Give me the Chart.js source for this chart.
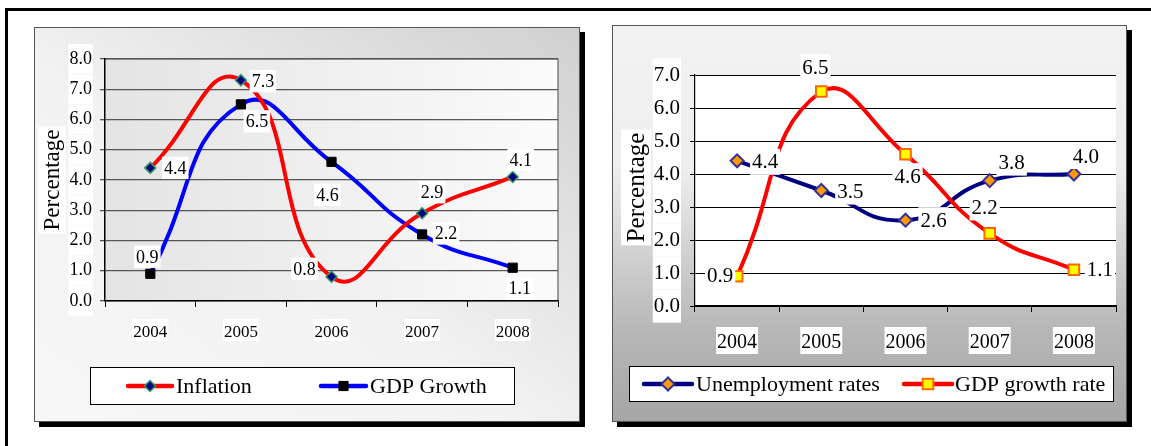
<!DOCTYPE html>
<html>
<head>
<meta charset="utf-8">
<script src="https://cdn.jsdelivr.net/npm/chart.js@4.4.1/dist/chart.umd.min.js"></script>
<style>
  html, body { margin: 0; padding: 0; background: #fff; width: 1151px; height: 446px; overflow: hidden; position: relative; }
  #frameTop { position: absolute; left: 5px; top: 8px; width: 1146px; height: 3px; background: #000; }
  #frameLeft { position: absolute; left: 5px; top: 8px; width: 3px; height: 438px; background: #000; }
  .box { position: absolute; box-sizing: border-box; border: 1px solid #555; box-shadow: 5px 5px 0 #000; }
  #boxL { left: 34px; top: 27px; width: 546px; height: 395px;
    background: linear-gradient(to bottom left, #d0d0d0 0%, #f2f2f2 55%, #f7f7f7 100%); }
  #boxR { left: 612px; top: 25px; width: 515px; height: 397px;
    background: linear-gradient(to bottom, #f2f2f2 0%, #eeeeee 36%, #b6b6b6 78%, #a6a6a6 100%); }
  .box canvas { position: absolute; left: -1px; top: -1px; }
</style>
</head>
<body>
<div id="frameTop"></div>
<div id="frameLeft"></div>
<div class="box" id="boxL"><canvas id="chartL" width="546" height="395"></canvas></div>
<div class="box" id="boxR"><canvas id="chartR" width="515" height="397"></canvas></div>
<script>
const years = ['2004', '2005', '2006', '2007', '2008'];
const inflation = [4.4, 7.3, 0.8, 2.9, 4.1];
const gdpGrowth = [0.9, 6.5, 4.6, 2.2, 1.1];
const unemploymentRates = [4.4, 3.5, 2.6, 3.8, 4.0];
const gdpGrowthRate = [0.9, 6.5, 4.6, 2.2, 1.1];
const leftMax = 8;
const rightMax = 7;

const FONT = '"Liberation Serif", "Times New Roman", serif';

// plot area fill (and grey border on the left chart)
const plotBg = {
  id: 'plotBg',
  beforeDraw(chart, args, o) {
    const { ctx, chartArea: a } = chart;
    ctx.save();
    if (o.gradient) {
      const g = ctx.createLinearGradient(a.left, 0, a.right, 0);
      g.addColorStop(0, o.gradient[0]);
      g.addColorStop(1, o.gradient[1]);
      ctx.fillStyle = g;
    } else {
      ctx.fillStyle = o.color;
    }
    ctx.fillRect(a.left, a.top, a.right - a.left, a.bottom - a.top);
    if (o.border) {
      ctx.strokeStyle = o.border;
      ctx.lineWidth = 1.5;
      ctx.beginPath();
      ctx.moveTo(a.left, a.top);
      ctx.lineTo(a.right, a.top);
      ctx.lineTo(a.right, a.bottom);
      ctx.stroke();
    }
    ctx.restore();
  }
};

// value labels on white boxes next to each point
const pointLabels = {
  id: 'pointLabels',
  afterDatasetsDraw(chart, args, o) {
    const ctx = chart.ctx;
    ctx.save();
    ctx.font = o.size + 'px ' + FONT;
    ctx.textAlign = 'center';
    ctx.textBaseline = 'middle';
    chart.data.datasets.forEach((ds, i) => {
      chart.getDatasetMeta(i).data.forEach((pt, j) => {
        const s = ds.labelShift[j];
        const txt = ds.data[j].toFixed(1);
        const w = ctx.measureText(txt).width;
        const x = pt.x + s[0], y = pt.y + s[1];
        ctx.fillStyle = '#fff';
        ctx.fillRect(x - w / 2 - 2, y - o.size * 0.62, w + 4, o.size * 1.24);
        ctx.fillStyle = '#000';
        ctx.fillText(txt, x, y + 1);
      });
    });
    ctx.restore();
  }
};

// rotated axis title with white backdrop
const yTitle = {
  id: 'yTitle',
  afterDraw(chart, args, o) {
    const { ctx, chartArea: a } = chart;
    ctx.save();
    ctx.font = o.size + 'px ' + FONT;
    const w = ctx.measureText(o.text).width;
    ctx.translate(o.x, (a.top + a.bottom) / 2 + o.dy);
    ctx.rotate(-Math.PI / 2);
    ctx.fillStyle = '#fff';
    ctx.fillRect(-w / 2 - 3, -o.size * 0.6, w + 6, o.size * 1.2);
    ctx.fillStyle = '#000';
    ctx.textAlign = 'center';
    ctx.textBaseline = 'middle';
    ctx.fillText(o.text, 0, 1);
    ctx.restore();
  }
};

// boxed legend with line + marker samples
const boxLegend = {
  id: 'boxLegend',
  afterDraw(chart, args, o) {
    const ctx = chart.ctx;
    const [bx, by, bw, bh] = o.box;
    ctx.save();
    ctx.fillStyle = '#fff';
    ctx.fillRect(bx, by, bw, bh);
    ctx.strokeStyle = '#000';
    ctx.lineWidth = 1;
    ctx.strokeRect(bx + 0.5, by + 0.5, bw - 1, bh - 1);
    const cy = by + bh / 2;
    ctx.font = o.size + 'px ' + FONT;
    ctx.textBaseline = 'middle';
    chart.data.datasets.forEach((ds, i) => {
      const it = o.items[i];
      ctx.strokeStyle = ds.borderColor;
      ctx.lineWidth = ds.borderWidth + 0.5;
      ctx.lineCap = 'round';
      ctx.beginPath();
      ctx.moveTo(it.x0, cy);
      ctx.lineTo(it.x1, cy);
      ctx.stroke();
      ctx.lineCap = 'butt';
      ctx.fillStyle = ds.pointBackgroundColor;
      ctx.strokeStyle = ds.pointBorderColor;
      ctx.lineWidth = ds.pointBorderWidth;
      Chart.helpers.drawPoint(ctx, { pointStyle: ds.pointStyle, radius: ds.pointRadius, borderWidth: ds.pointBorderWidth, rotation: 0 }, (it.x0 + it.x1) / 2, cy);
      ctx.fillStyle = '#000';
      ctx.fillText(ds.label, it.tx, cy + 1);
    });
    ctx.restore();
  }
};

const fmt = v => Number(v).toFixed(1);

// left: Inflation vs GDP Growth
new Chart(document.getElementById('chartL'), {
  type: 'line',
  data: {
    labels: years,
    datasets: [
      {
        label: 'Inflation', data: inflation,
        borderColor: '#ff0000', borderWidth: 4, tension: 0.5,
        pointStyle: 'rectRot', pointRadius: 5.5, pointBackgroundColor: '#000080',
        pointBorderColor: '#339966', pointBorderWidth: 1.5,
        labelShift: [[25, 0], [22, 1], [-27, -8], [10, -21], [8, -17]]
      },
      {
        label: 'GDP Growth', data: gdpGrowth,
        borderColor: '#0000ff', borderWidth: 4, tension: 0.5,
        pointStyle: 'rect', pointRadius: 6.5, pointBackgroundColor: '#000',
        pointBorderColor: '#000', pointBorderWidth: 1,
        labelShift: [[-3, -17], [16, 17], [-4, 33], [24, -1], [7, 21]]
      }
    ]
  },
  options: {
    responsive: false, animation: false, events: [],
    layout: { padding: { left: 0, right: 22, top: 32, bottom: 81 } },
    plugins: {
      legend: { display: false },
      tooltip: { enabled: false },
      plotBg: { gradient: ['#e4e4e4', '#fbfbfb'], border: '#808080' },
      pointLabels: { size: 18 },
      yTitle: { text: 'Percentage', size: 23, x: 18, dy: 0 },
      boxLegend: {
        box: [56, 340, 425, 38], size: 22,
        items: [{ x0: 94, x1: 138, tx: 142 }, { x0: 287, x1: 332, tx: 336 }]
      }
    },
    scales: {
      x: {
        offset: true,
        grid: { offset: true, drawOnChartArea: false, tickLength: 6, color: '#000' },
        border: { color: '#000', width: 1.5 },
        ticks: { color: '#000', font: { family: FONT, size: 17 }, padding: 15,
          showLabelBackdrop: true, backdropColor: '#fff', backdropPadding: { x: 1, y: 3 } },
        afterFit: s => { s.height = 40; }
      },
      y: {
        min: 0, max: leftMax,
        grid: { color: '#555', lineWidth: 1.3, tickLength: 5 },
        border: { color: '#000', width: 1.5 },
        ticks: { stepSize: 1, callback: fmt, color: '#000', font: { family: FONT, size: 18 }, padding: 8,
          showLabelBackdrop: true, backdropColor: '#fff', backdropPadding: { x: 1, y: 4 } },
        afterFit: s => { s.width = 71; }
      }
    }
  },
  plugins: [plotBg, pointLabels, yTitle, boxLegend]
});

// right: Unemployment vs GDP growth rate
new Chart(document.getElementById('chartR'), {
  type: 'line',
  data: {
    labels: years,
    datasets: [
      {
        label: 'Unemployment rates', data: unemploymentRates, order: 2,
        borderColor: '#000080', borderWidth: 4, tension: 0.5,
        pointStyle: 'rectRot', pointRadius: 6.5, pointBackgroundColor: '#ff9900',
        pointBorderColor: '#333399', pointBorderWidth: 2,
        labelShift: [[28, 1], [29, 1], [28, 0], [22, -18], [12, -18]]
      },
      {
        label: 'GDP growth rate', data: gdpGrowthRate, order: 1,
        borderColor: '#ff0000', borderWidth: 4, tension: 0.5,
        pointStyle: 'rect', pointRadius: 7.5, pointBackgroundColor: '#ffff00',
        pointBorderColor: '#ff6600', pointBorderWidth: 2,
        labelShift: [[-17, -1], [-6, -24], [2, 22], [-5, -26], [26, 0]]
      }
    ]
  },
  options: {
    responsive: false, animation: false, events: [],
    layout: { padding: { left: 0, right: 11, top: 50, bottom: 68 } },
    plugins: {
      legend: { display: false },
      tooltip: { enabled: false },
      plotBg: { color: '#ffffff' },
      pointLabels: { size: 21 },
      yTitle: { text: 'Percentage', size: 25, x: 24, dy: -3 },
      boxLegend: {
        box: [17, 341, 485, 36], size: 22,
        items: [{ x0: 32, x1: 80, tx: 84 }, { x0: 292, x1: 340, tx: 343 }]
      }
    },
    scales: {
      x: {
        offset: true,
        grid: { offset: true, drawOnChartArea: false, tickLength: 6, color: '#000' },
        border: { color: '#000', width: 1.2 },
        ticks: { color: '#000', font: { family: FONT, size: 20 }, padding: 19,
          showLabelBackdrop: true, backdropColor: '#fff', backdropPadding: { x: 1, y: 4 } },
        afterFit: s => { s.height = 48; }
      },
      y: {
        min: 0, max: rightMax,
        grid: { color: '#000', lineWidth: 1, tickLength: 5 },
        border: { color: '#000', width: 1.2 },
        ticks: { stepSize: 1, callback: fmt, color: '#000', font: { family: FONT, size: 21 }, padding: 10,
          showLabelBackdrop: true, backdropColor: '#fff', backdropPadding: { x: 1, y: 4 } },
        afterFit: s => { s.width = 83; }
      }
    }
  },
  plugins: [plotBg, pointLabels, yTitle, boxLegend]
});
</script>
</body>
</html>
